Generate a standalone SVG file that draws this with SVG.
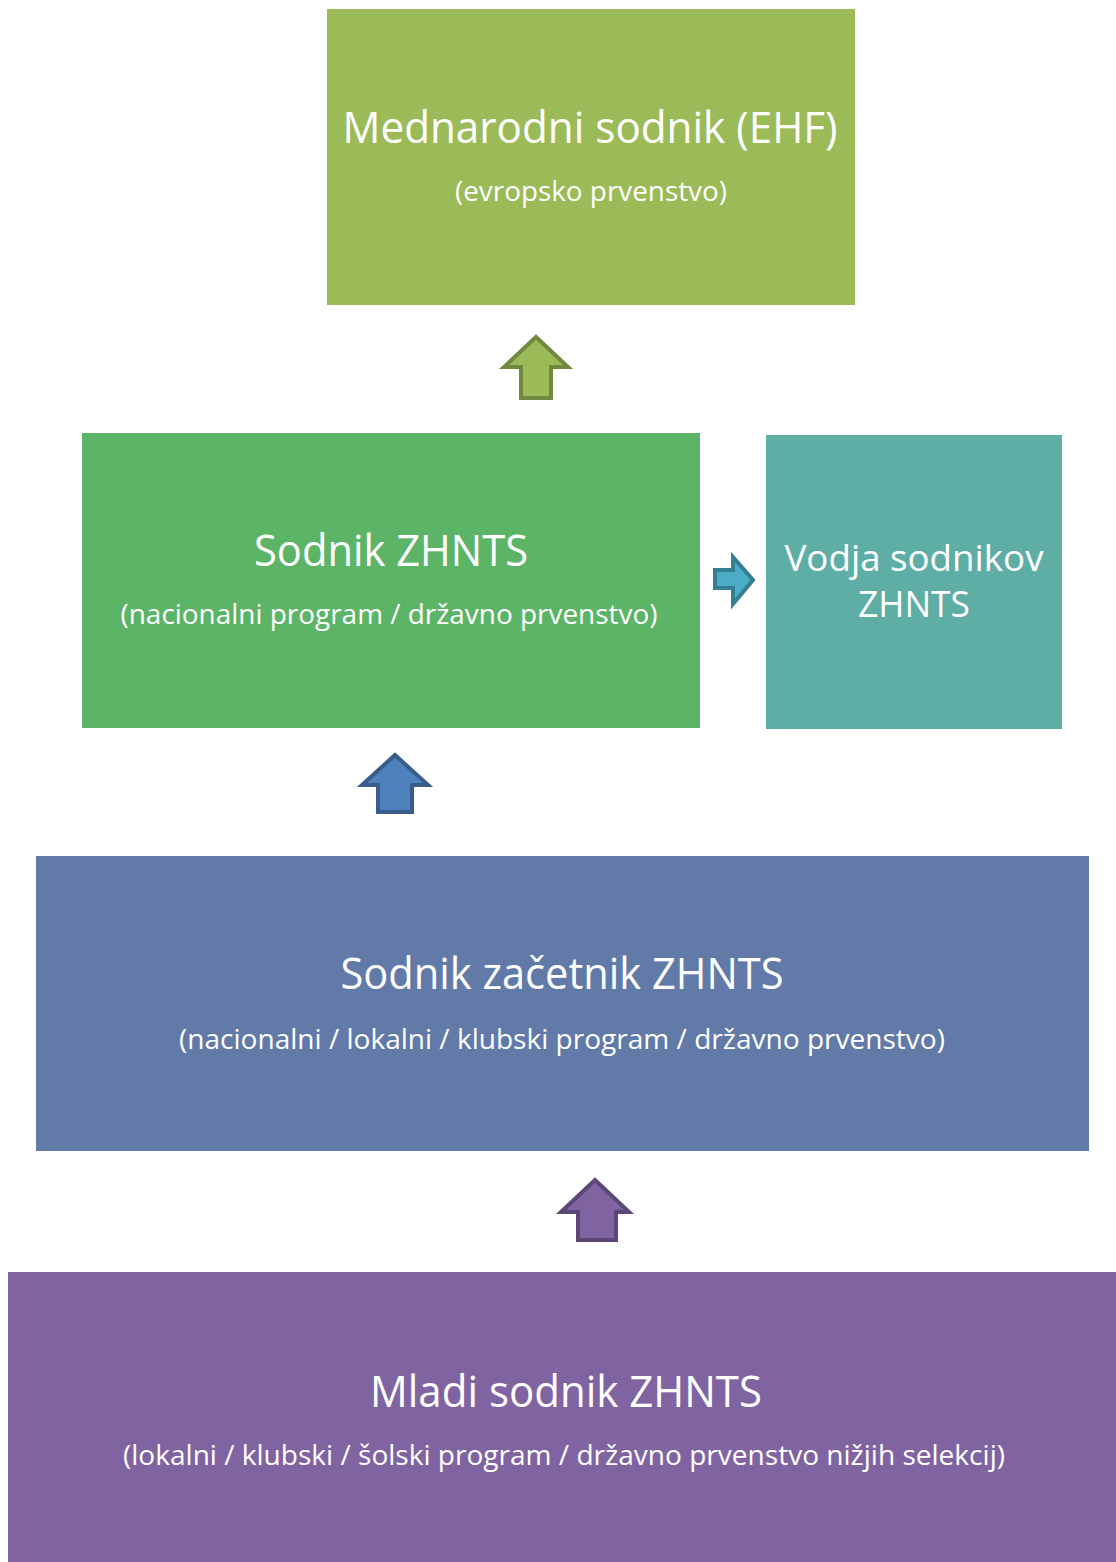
<svg xmlns="http://www.w3.org/2000/svg" width="1116" height="1562" viewBox="0 0 1116 1562">
<style>
.t{font-family:"Open Sans","Noto Sans","Liberation Sans",sans-serif;fill:#ffffff;text-anchor:middle}
.big{font-size:44px}
.sub{font-size:27px}
.mid{font-size:36px}
.arr{stroke-width:4;stroke-linejoin:miter}
</style>
<rect width="1116" height="1562" fill="#ffffff"/>
<g id="node-mednarodni">
<rect x="327" y="9" width="528" height="296" fill="#9BBB59"/>
<text class="t big" x="590" y="143" textLength="495" lengthAdjust="spacingAndGlyphs">Mednarodni sodnik (EHF)</text>
<text class="t sub" x="591" y="201" textLength="272" lengthAdjust="spacingAndGlyphs">(evropsko prvenstvo)</text>
</g>
<g id="node-sodnik">
<rect x="82" y="433" width="618" height="295" fill="#5CB466"/>
<text class="t big" x="391" y="566" textLength="274" lengthAdjust="spacingAndGlyphs">Sodnik ZHNTS</text>
<text class="t sub" x="389" y="624" textLength="537" lengthAdjust="spacingAndGlyphs">(nacionalni program / državno prvenstvo)</text>
</g>
<g id="node-vodja">
<rect x="766" y="435" width="296" height="294" fill="#5EAEA5"/>
<text class="t mid" x="914" y="571" textLength="259" lengthAdjust="spacingAndGlyphs">Vodja sodnikov</text>
<text class="t mid" x="914" y="617" textLength="112" lengthAdjust="spacingAndGlyphs">ZHNTS</text>
</g>
<g id="node-zacetnik">
<rect x="36" y="856" width="1053" height="295" fill="#617AA8"/>
<text class="t big" x="562" y="989" textLength="443" lengthAdjust="spacingAndGlyphs">Sodnik začetnik ZHNTS</text>
<text class="t sub" x="562" y="1049" textLength="766" lengthAdjust="spacingAndGlyphs">(nacionalni / lokalni / klubski program / državno prvenstvo)</text>
</g>
<g id="node-mladi">
<rect x="8" y="1272" width="1108" height="290" fill="#8064A2"/>
<text class="t big" x="566" y="1407" textLength="392" lengthAdjust="spacingAndGlyphs">Mladi sodnik ZHNTS</text>
<text class="t sub" x="564" y="1465" textLength="882" lengthAdjust="spacingAndGlyphs">(lokalni / klubski / šolski program / državno prvenstvo nižjih selekcij)</text>
</g>
<g id="connectors">
<path class="arr" d="M536,337 L568,367 L551,367 L551,398 L521,398 L521,367 L504,367 Z" fill="#9BBB59" stroke="#71893F"/>
<path class="arr" d="M733,557 L753,580 L733,604 L733,588 L715,588 L715,570 L733,570 Z" fill="#4BACC6" stroke="#357D91"/>
<path class="arr" d="M395,755 L428,785 L412,785 L412,812 L378,812 L378,785 L362,785 Z" fill="#4F81BD" stroke="#385D8A"/>
<path class="arr" d="M595,1180 L629,1212 L616,1212 L616,1240 L578,1240 L578,1212 L561,1212 Z" fill="#8064A2" stroke="#5C4776"/>
</g>
</svg>
